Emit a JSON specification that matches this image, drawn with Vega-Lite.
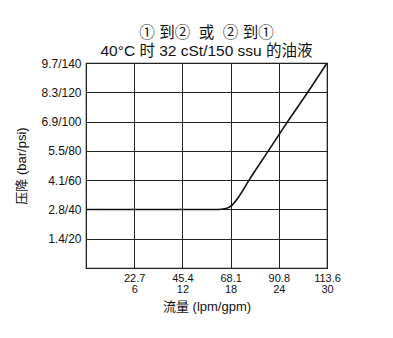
{
  "$schema": "https://vega.github.io/schema/vega-lite/v6.json",
  "autosize": "none",
  "width": 241,
  "height": 205,
  "padding": {"left": 86, "top": 63, "right": 66, "bottom": 70},
  "background": "white",
  "config": {
    "font": "Liberation Sans, 'Noto Sans CJK SC'",
    "view": {"stroke": "#111", "strokeWidth": 1.2}
  },
  "title": {
    "text": ["① 到②\u00a0\u00a0或\u00a0\u00a0② 到①", "40°C 时 32 cSt/150 ssu 的油液"],
    "fontSize": 15.5,
    "fontWeight": "normal",
    "lineHeight": 18,
    "offset": -2,
    "color": "#111",
    "anchor": "middle"
  },
  "data": {
    "values": [
      {"gpm": 0, "psi": 40},
      {"gpm": 16.4, "psi": 40},
      {"gpm": 17.4, "psi": 40.6},
      {"gpm": 18.2, "psi": 43},
      {"gpm": 19.0, "psi": 48.5},
      {"gpm": 20.3, "psi": 60},
      {"gpm": 22.7, "psi": 80},
      {"gpm": 25.1, "psi": 100},
      {"gpm": 27.6, "psi": 120},
      {"gpm": 30, "psi": 140}
    ]
  },
  "mark": {"type": "line", "color": "#111", "strokeWidth": 1.6, "interpolate": "monotone", "clip": true},
  "encoding": {
    "x": {
      "field": "gpm",
      "type": "quantitative",
      "scale": {"domain": [0, 30], "nice": false, "zero": false},
      "axis": {
        "values": [0, 6, 12, 18, 24, 30],
        "labelExpr": "datum.value==6?['22.7','6']:datum.value==12?['45.4','12']:datum.value==18?['68.1','18']:datum.value==24?['90.8','24']:datum.value==30?['113.6','30']:''",
        "labelFontSize": 11,
        "labelLineHeight": 11,
        "labelColor": "#111",
        "labelPadding": 4,
        "labelFlush": false,
        "ticks": false,
        "domain": false,
        "grid": true,
        "gridColor": "#222",
        "gridOpacity": 1,
        "gridWidth": 1,
        "title": "流量 (lpm/gpm)",
        "titleFontSize": 13,
        "titleFontWeight": "normal",
        "titleColor": "#111",
        "titlePadding": 6
      }
    },
    "y": {
      "field": "psi",
      "type": "quantitative",
      "scale": {"domain": [0, 140], "nice": false, "zero": true},
      "axis": {
        "values": [0, 20, 40, 60, 80, 100, 120, 140],
        "labelExpr": "datum.value==20?'1.4/20':datum.value==40?'2.8/40':datum.value==60?'4.1/60':datum.value==80?'5.5/80':datum.value==100?'6.9/100':datum.value==120?'8.3/120':datum.value==140?'9.7/140':''",
        "labelFontSize": 12,
        "labelColor": "#111",
        "labelPadding": 5,
        "labelFlush": false,
        "ticks": false,
        "domain": false,
        "grid": true,
        "gridColor": "#222",
        "gridOpacity": 1,
        "gridWidth": 1,
        "title": "压降 (bar/psi)",
        "titleFontSize": 13,
        "titleFontWeight": "normal",
        "titleColor": "#111",
        "titlePadding": 12
      }
    }
  }
}
